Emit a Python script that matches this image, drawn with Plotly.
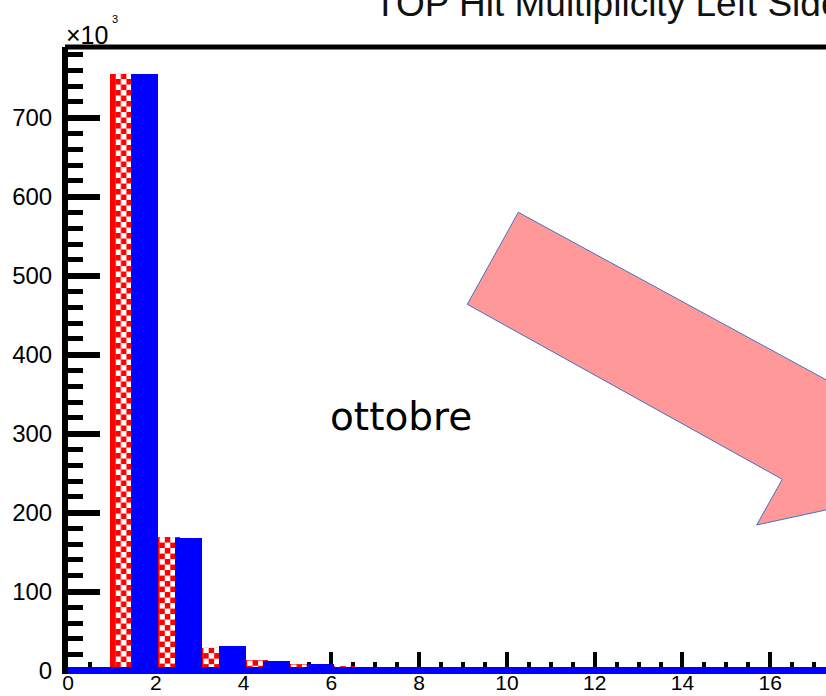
import base64
import plotly.graph_objects as go

# ---------------- data (counts in units of 10^3) ----------------
bin_low = [0, 1, 2, 3, 4, 5, 6, 7, 8, 9, 10, 11, 12, 13, 14, 15, 16, 17]
red_counts = [0, 756, 169, 29, 13, 8, 6, 3, 1.5, 0.8, 0.5, 0.3, 0.2, 0.1, 0, 0, 0, 0]
blue_counts = [0, 756, 168, 30.5, 12.5, 8, 5, 3, 1.5, 0.8, 0.5, 0.3, 0.2, 0.1, 0, 0, 0, 0]
x_tick_vals = [0, 2, 4, 6, 8, 10, 12, 14, 16]
y_tick_vals = [0, 100, 200, 300, 400, 500, 600, 700]
title_text = "TOP Hit Multiplicity Left Side"
note_text = "ottobre"
exp_text = "\u00d710"
exp_power = "3"

# ---------------- geometry / style ----------------
W, H = 826, 696
ML, MR, MT, MB = 68, 0, 47, 22
X_RANGE = [0, 17.27]
Y_RANGE = [-4.4, 789.6]
PX_X = (W - ML - MR) / (X_RANGE[1] - X_RANGE[0])
PX_Y = (H - MT - MB) / (Y_RANGE[1] - Y_RANGE[0])

RED_CENTER, RED_WIDTH = 0.25, 0.60
BLUE_CENTER, BLUE_WIDTH = 0.75, 0.62
CHECK_LEFT, CHECK_WIDTH = 0.08, 0.36
BAND_PX = 3.5           # half thickness of zero band in px
BAND_K = BAND_PX / PX_Y
CELL = 5.5

RED = "#ff0000"
BLUE = "#0000ff"
FONT = "Liberation Sans, Arial, sans-serif"


def paper_x(px):
    return (px - ML) / (W - ML - MR)


def paper_y(py):
    return (H - MB - py) / (H - MT - MB)


def checker_uri(w_px, h_px, cell=CELL):
    c2 = 2 * cell
    svg = (
        f'<svg xmlns="http://www.w3.org/2000/svg" width="{w_px:.2f}" height="{h_px:.2f}" '
        f'viewBox="0 0 {w_px:.2f} {h_px:.2f}" preserveAspectRatio="none">'
        f'<defs><pattern id="k" width="{c2}" height="{c2}" patternUnits="userSpaceOnUse">'
        f'<rect width="{c2}" height="{c2}" fill="{RED}"/>'
        f'<rect width="{cell}" height="{cell}" fill="#ffffff"/>'
        f'<rect x="{cell}" y="{cell}" width="{cell}" height="{cell}" fill="#ffffff"/>'
        f'</pattern></defs><rect width="100%" height="100%" fill="url(#k)"/></svg>'
    )
    return "data:image/svg+xml;base64," + base64.b64encode(svg.encode()).decode()


fig = go.Figure()

fig.add_trace(go.Bar(
    x=[b + RED_CENTER for b in bin_low], y=red_counts, width=RED_WIDTH,
    marker=dict(color=RED, line=dict(width=0)), name="red",
))
fig.add_trace(go.Bar(
    x=[b + BLUE_CENTER for b in bin_low], y=blue_counts, width=BLUE_WIDTH,
    marker=dict(color=BLUE, line=dict(width=0)), name="blue",
))
# zero level of the blue histogram (thick line along the baseline)
fig.add_trace(go.Scatter(
    x=[bin_low[0], bin_low[-1] + 1], y=[0, 0], mode="lines",
    line=dict(color=BLUE, width=2 * BAND_PX), hoverinfo="skip",
))

# checkerboard fill of the red bars (visible part)
images = []
for b, v in zip(bin_low, red_counts):
    if v > BAND_K:
        h_k = v - BAND_K
        images.append(dict(
            source=checker_uri(CHECK_WIDTH * PX_X, h_k * PX_Y),
            xref="x", yref="y", x=b + CHECK_LEFT, y=v,
            sizex=CHECK_WIDTH, sizey=h_k, xanchor="left", yanchor="top",
            sizing="stretch", layer="above",
        ))

# arrow (pixel coordinates of the drawing)
arrow_px = [(518.3, 212.3), (467.3, 304.3), (782.3, 479.3), (756.7, 525.0),
            (900.0, 493.9), (900.0, 420.0)]
path = "M " + " L ".join(f"{paper_x(px):.5f},{paper_y(py):.5f}" for px, py in arrow_px) + " Z"

shapes = [
    dict(type="path", xref="paper", yref="paper", path=path,
         fillcolor="#ff9999", line=dict(color="#4472c4", width=1), layer="above"),
    dict(type="line", xref="paper", yref="paper", x0=paper_x(65), x1=1.05, y0=1, y1=1,
         line=dict(color="black", width=5), layer="above"),
]

annotations = [
    dict(text=title_text, xref="paper", yref="paper", x=paper_x(372), y=paper_y(3),
         xanchor="left", yanchor="middle", showarrow=False,
         font=dict(family=FONT, size=37, color="#111111")),
    dict(text=exp_text, xref="paper", yref="paper", x=paper_x(64), y=paper_y(35),
         xanchor="left", yanchor="middle", showarrow=False,
         font=dict(family=FONT, size=25, color="black")),
    dict(text=exp_power, xref="paper", yref="paper", x=paper_x(110), y=paper_y(19),
         xanchor="left", yanchor="middle", showarrow=False,
         font=dict(family=FONT, size=11, color="black")),
    dict(text=note_text, xref="paper", yref="paper", x=paper_x(400.5), y=paper_y(416),
         xanchor="center", yanchor="middle", showarrow=False,
         font=dict(family="DejaVu Sans, sans-serif", size=39, color="black")),
]

fig.update_layout(
    width=W, height=H, margin=dict(l=ML, r=MR, t=MT, b=MB, pad=0),
    paper_bgcolor="white", plot_bgcolor="white",
    barmode="overlay", bargap=0, showlegend=False,
    images=images, shapes=shapes, annotations=annotations,
    xaxis=dict(
        range=X_RANGE, showline=False, showgrid=False, zeroline=False,
        automargin=False,
        tickmode="array", tickvals=x_tick_vals,
        ticks="inside", ticklen=22, tickwidth=4, tickcolor="black",
        minor=dict(ticks="inside", ticklen=12, tickwidth=4, tickcolor="black",
                   dtick=0.5, tick0=0, showgrid=False),
        tickfont=dict(family=FONT, size=21, color="black"),
        ticklabelstandoff=-6,
        layer="below traces",
    ),
    yaxis=dict(
        range=Y_RANGE, showline=True, linewidth=6, linecolor="black",
        showgrid=False, zeroline=False, automargin=False,
        tickmode="array", tickvals=y_tick_vals,
        ticks="inside", ticklen=32, tickwidth=6, tickcolor="black",
        minor=dict(ticks="inside", ticklen=15, tickwidth=5, tickcolor="black",
                   dtick=20, tick0=0, showgrid=False),
        tickfont=dict(family=FONT, size=24, color="black"),
        ticklabelstandoff=5,
        layer="below traces",
    ),
)

fig.write_html("out.html")
